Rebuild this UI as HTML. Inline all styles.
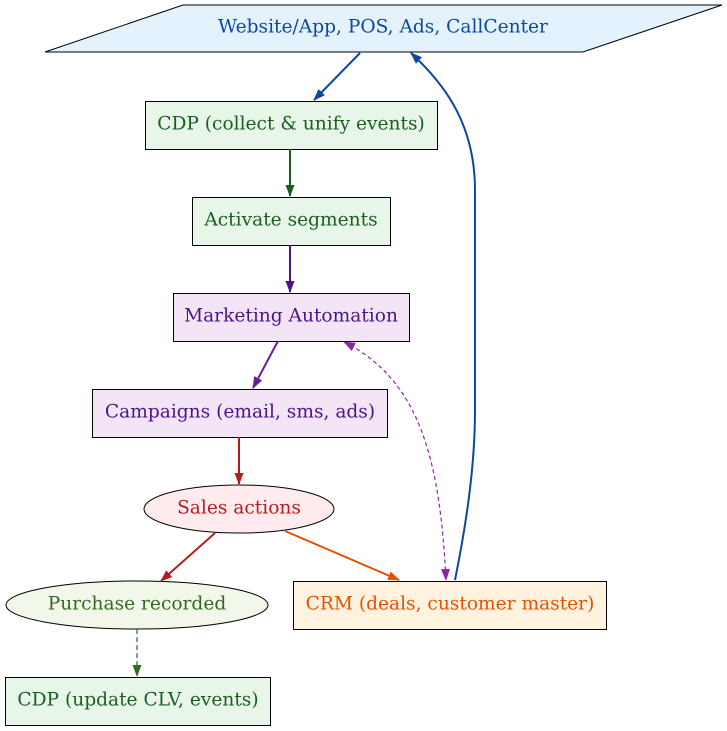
<!DOCTYPE html>
<html><head><meta charset="utf-8"><style>
html,body{margin:0;padding:0;background:#fff}
.wrap{position:relative;width:727px;height:731px}
svg{position:absolute;left:0;top:0}
.t{position:absolute;font-family:"DejaVu Serif",serif;font-size:18.6px;white-space:nowrap;transform:translate(-50%,-50%);line-height:1}
</style></head><body>
<div class="wrap">
<svg width="727" height="731" viewBox="0 0 727 731" xmlns="http://www.w3.org/2000/svg">
<defs>
<marker id="ab" markerWidth="12" markerHeight="10" refX="11" refY="5" orient="auto" markerUnits="userSpaceOnUse"><path d="M0,0.5 L12,5 L0,9.5z" fill="#0d47a1"/></marker>
<marker id="ag" markerWidth="12" markerHeight="10" refX="11" refY="5" orient="auto" markerUnits="userSpaceOnUse"><path d="M0,0.5 L12,5 L0,9.5z" fill="#1b5e20"/></marker>
<marker id="ap" markerWidth="12" markerHeight="10" refX="11" refY="5" orient="auto" markerUnits="userSpaceOnUse"><path d="M0,0.5 L12,5 L0,9.5z" fill="#4a148c"/></marker>
<marker id="ap2" markerWidth="12" markerHeight="10" refX="11" refY="5" orient="auto" markerUnits="userSpaceOnUse"><path d="M0,0.5 L12,5 L0,9.5z" fill="#6a1b9a"/></marker>
<marker id="ar" markerWidth="12" markerHeight="10" refX="11" refY="5" orient="auto" markerUnits="userSpaceOnUse"><path d="M0,0.5 L12,5 L0,9.5z" fill="#b71c1c"/></marker>
<marker id="ao" markerWidth="12" markerHeight="10" refX="11" refY="5" orient="auto" markerUnits="userSpaceOnUse"><path d="M0,0.5 L12,5 L0,9.5z" fill="#e65100"/></marker>
<marker id="ag2" markerWidth="12" markerHeight="10" refX="11" refY="5" orient="auto" markerUnits="userSpaceOnUse"><path d="M0,0.5 L12,5 L0,9.5z" fill="#33691e"/></marker>
<marker id="am" markerWidth="12" markerHeight="10" refX="11" refY="5" orient="auto-start-reverse" markerUnits="userSpaceOnUse"><path d="M0,0.5 L12,5 L0,9.5z" fill="#8e24aa"/></marker>
</defs>
<polygon points="45,52 183,5 722,5 583,52" fill="#e3f2fd" stroke="#000"/>
<rect x="145.5" y="101.5" width="292" height="48" fill="#e8f5e9" stroke="#000"/>
<rect x="192.5" y="197.5" width="198" height="48" fill="#e8f5e9" stroke="#000"/>
<rect x="173.5" y="293.5" width="236" height="48" fill="#f3e5f5" stroke="#000"/>
<rect x="92.5" y="389.5" width="295" height="48" fill="#f3e5f5" stroke="#000"/>
<ellipse cx="239" cy="509" rx="95" ry="24" fill="#ffebee" stroke="#000"/>
<ellipse cx="137" cy="605" rx="131" ry="24" fill="#f1f8e9" stroke="#000"/>
<rect x="293.5" y="581.5" width="313" height="48" fill="#fff3e0" stroke="#000"/>
<rect x="5.5" y="677.5" width="265" height="48" fill="#e8f5e9" stroke="#000"/>
<g fill="none" stroke-width="2">
<path d="M360,53 L314,100" stroke="#0d47a1" marker-end="url(#ab)"/>
<path d="M290,149 L290,196" stroke="#1b5e20" marker-end="url(#ag)"/>
<path d="M290,245 L290,292" stroke="#4a148c" marker-end="url(#ap)"/>
<path d="M278,341 L253,388" stroke="#6a1b9a" marker-end="url(#ap2)"/>
<path d="M239,437 L239,484" stroke="#b71c1c" marker-end="url(#ar)"/>
<path d="M215,533 L161,581" stroke="#b71c1c" marker-end="url(#ar)"/>
<path d="M285,531 L399,580" stroke="#e65100" marker-end="url(#ao)"/>
<path d="M455,580 C465,530 475,470 475,410 L475,190 C475,120 440,80 411,53" stroke="#0d47a1" marker-end="url(#ab)"/>
</g>
<path d="M137,629 L137,676" stroke="#33691e" stroke-width="1.2" stroke-dasharray="5,3" fill="none" marker-end="url(#ag2)"/>
<path d="M344,342 C420,380 440,460 446,580" stroke="#8e24aa" stroke-width="1.2" stroke-dasharray="4,3" fill="none" marker-start="url(#am)" marker-end="url(#am)"/>
</svg>
<div class="t" style="left:383px;top:28px;color:#0d47a1">Website/App, POS, Ads, CallCenter</div>
<div class="t" style="left:291px;top:125px;color:#1b5e20">CDP (collect &amp; unify events)</div>
<div class="t" style="left:291px;top:221px;color:#1b5e20">Activate segments</div>
<div class="t" style="left:291px;top:317px;color:#4a148c">Marketing Automation</div>
<div class="t" style="left:240px;top:413px;color:#4a148c">Campaigns (email, sms, ads)</div>
<div class="t" style="left:239px;top:509px;color:#b71c1c">Sales actions</div>
<div class="t" style="left:137px;top:605px;color:#33691e">Purchase recorded</div>
<div class="t" style="left:450px;top:605px;color:#e65100">CRM (deals, customer master)</div>
<div class="t" style="left:138px;top:701px;color:#1b5e20">CDP (update CLV, events)</div>
</div>
</body></html>
